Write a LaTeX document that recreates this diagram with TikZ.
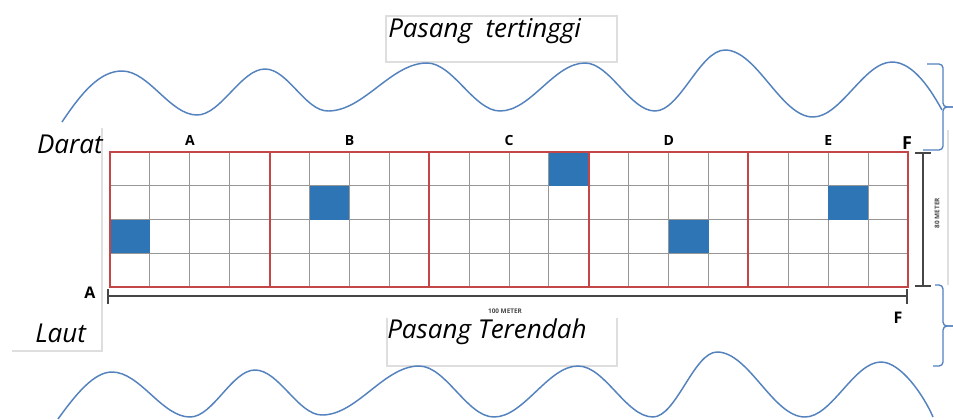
\documentclass[tikz,border=0pt]{standalone}
\usepackage{fontspec}
\setmainfont{Open Sans}
\definecolor{gridred}{RGB}{196,70,70}
\definecolor{cellblue}{RGB}{46,117,182}
\definecolor{waveblue}{RGB}{84,130,190}
\definecolor{boxgray}{RGB}{222,222,222}
\definecolor{gridgray}{RGB}{150,150,150}
\definecolor{dimgray}{RGB}{70,70,70}
\begin{document}
\begin{tikzpicture}[x=0.75pt,y=-0.75pt,
  gridline/.style={gridgray,line width=0.7pt},
  redline/.style={gridred,line width=1.5pt},
  cell/.style={fill=cellblue},
  wave/.style={waveblue,line width=1.1pt},
  bracket/.style={waveblue,line width=1pt,rounded corners=3pt},
  boxline/.style={boxgray,line width=0.8pt},
  dimline/.style={dimgray,line width=1.1pt},
  ittext/.style={font=\itshape\fontsize{19.5}{21}\selectfont,inner sep=0pt},
  seclbl/.style={font=\bfseries\fontsize{10.5}{12}\selectfont,inner sep=0pt},
  cornerlbl/.style={font=\bfseries\fontsize{12}{14}\selectfont,inner sep=0pt},
  tinylbl/.style={font=\bfseries\fontsize{4.8}{5}\selectfont,inner sep=0pt,text=dimgray}]
\useasboundingbox (0,0) rectangle (953,419);
\fill[white] (0,0) rectangle (953,419);

% faint text-box borders
\draw[boxline] (386,16) rectangle (617,62);
\draw[boxline] (387,318) -- (387,366) -- (617,366) -- (617,318);
\draw[boxline] (102,128) -- (102,351) -- (12,351);
\draw[boxline] (948,130) -- (948,285);

% top wave
\draw[wave] (62,122) .. controls (82,92) and (100,71) .. (122,71)
  .. controls +(27,0) and +(-27,0) .. (197,115)
  .. controls +(24,0) and +(-24,0) .. (265,69)
  .. controls +(23,0) and +(-23,0) .. (328,111)
  .. controls +(36,0) and +(-36,0) .. (427,63)
  .. controls +(26,0) and +(-26,0) .. (500,111)
  .. controls +(31,0) and +(-31,0) .. (585,63)
  .. controls +(25,0) and +(-25,0) .. (655,111)
  .. controls +(25,0) and +(-25,0) .. (725,50)
  .. controls +(32,0) and +(-32,0) .. (813,117)
  .. controls +(28,0) and +(-28,0) .. (892,62)
  .. controls +(22,0) and (932,92) .. (942,110);

% bottom wave
\draw[wave] (58,419) .. controls (76,394) and (94,372) .. (112,372)
  .. controls +(28,0) and +(-28,0) .. (190,417)
  .. controls +(23,0) and +(-23,0) .. (255,370)
  .. controls +(24,0) and +(-24,0) .. (322,415)
  .. controls +(35,0) and +(-35,0) .. (419,366)
  .. controls +(27,0) and +(-27,0) .. (494,417)
  .. controls +(30,0) and +(-30,0) .. (578,366)
  .. controls +(27,0) and +(-27,0) .. (653,417)
  .. controls +(23,0) and +(-23,0) .. (717,352)
  .. controls +(32,0) and +(-32,0) .. (805,417)
  .. controls +(27,0) and +(-27,0) .. (881,362)
  .. controls +(20,0) and (924,396) .. (933,417);

% brackets
\draw[bracket] (927,64) -- (943,64) -- (943,107) -- (953,107);
\draw[bracket] (953,107) -- (943,107) -- (943,150) -- (923,150);
\draw[bracket] (935,285) -- (943,285) -- (943,326) -- (953,326);
\draw[bracket] (953,326) -- (943,326) -- (943,366) -- (933,366);

% grid
\foreach \i in {1,...,19}
  \draw[gridline] ({110+39.9*\i},152) -- ({110+39.9*\i},287);
\foreach \j in {1,2,3}
  \draw[gridline] (110,{152+33.75*\j}) -- (908,{152+33.75*\j});

% blue cells
\foreach \c/\r in {0/2,5/1,11/0,14/2,18/1}
  \fill[cell] ({110+39.9*\c},{152+33.75*\r}) rectangle ++(39.9,33.75);

% red sections
\draw[redline] (110,152) rectangle (908,287);
\foreach \k in {1,2,3,4}
  \draw[redline] ({110+159.6*\k},152) -- ({110+159.6*\k},287);

% section labels
\foreach \k/\t in {0/A,1/B,2/C,3/D,4/E}
  \node[seclbl] (sec\t) at ({190+159.6*\k},140) {\t};

% corner labels
\node[cornerlbl,font=\bfseries\fontsize{13.5}{15}\selectfont] (Ftop) at (907,143) {F};
\node[cornerlbl] (Abot) at (90,293) {A};
\node[cornerlbl] (Fbot) at (898,318) {F};

% texts
\node[ittext,anchor=base east] (darat) at (103,153) {Darat};
\node[ittext,anchor=base west] (laut) at (35,342) {Laut};
\node[ittext,anchor=base west] (tinggi) at (388,37) {Pasang\ \ tertinggi};
\node[ittext,anchor=base west] (rendah) at (387,338) {Pasang Terendah};

% dimension 100 meter
\coordinate (h1) at (108,296);
\coordinate (h2) at (907,296);
\draw[dimline] (h1) -- (h2);
\draw[dimline] (h1) ++(0,-7) -- ++(0,15);
\draw[dimline] (h2) ++(0,-7) -- ++(0,15);
\node[tinylbl] (m100) at (505,311) {100 METER};

% dimension 80 meter
\coordinate (v1) at (923,153);
\coordinate (v2) at (923,286);
\draw[dimline] (v1) -- (v2);
\draw[dimline] (v1) ++(-8,0) -- ++(16,0);
\draw[dimline] (v2) ++(-8,0) -- ++(16,0);
\node[tinylbl,rotate=90] (m80) at (937,213) {80 METER};
\end{tikzpicture}
\end{document}
